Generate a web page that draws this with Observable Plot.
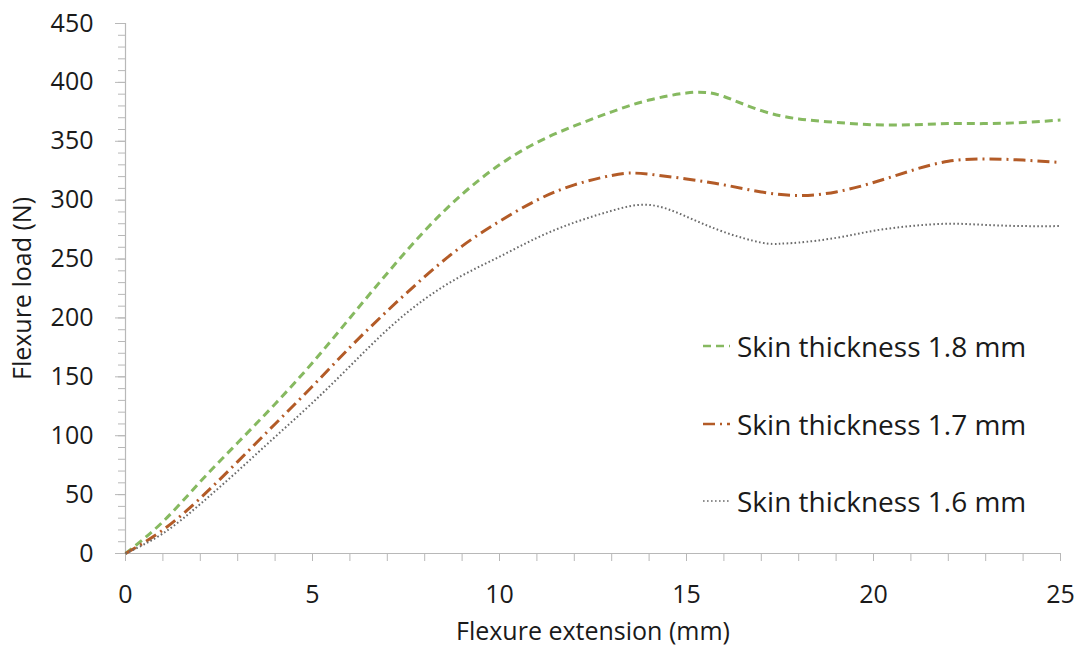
<!DOCTYPE html>
<html>
<head>
<meta charset="utf-8">
<script src="https://cdn.jsdelivr.net/npm/d3@7"></script>
<script src="https://cdn.jsdelivr.net/npm/@observablehq/plot@0.6"></script>
<style>
  html, body { margin: 0; padding: 0; background: #fff; }
  #wrap { position: relative; width: 1080px; height: 650px; font-family: "Open Sans", sans-serif; }
  #legend { position: absolute; left: 700px; top: 326px; }
  .row { display: flex; align-items: center; height: 40px; margin-bottom: 37.5px; font-size: 28px; color: #1a1a1a; }
  .row svg { margin-right: 7px; }
</style>
</head>
<body>
<div id="wrap"><div id="chart"></div><div id="legend"></div></div>
<script>
const seriesNames = ["Skin thickness 1.8 mm", "Skin thickness 1.7 mm", "Skin thickness 1.6 mm"];
const colors = ["#86b960", "#b35b27", "#6b6b6b"];
const dashes = ["8,5", "12,5,2,5", "1.6,2.4"];
const widths = [3, 3, 2];

const x18 = [0,1,2,3,4,5,6,7,8,9,10,11,12,13,14,15,15.5,16,17,18,19,20,21,22,23,24,25];
const y18 = [0,27,61,94,127,162,200,238,274,305,330,349,363,375,385,391,391.5,388,376,369,366,364,364,365,365,366,368];

const x17 = [0,1,2,3,4,5,6,7,8,9,10,11,12,13,13.5,14,15,16,17,18,19,20,21,22,23,24,25];
const y17 = [0,20,47,78,110,142,175,206,235,261,282,300,313,321,323,322,318,313,307,304,307,315,325,333,335,334,332];

const x16 = [0,1,2,3,4,5,6,7,8,9,10,11,12,13,14,15,16,17,17.5,18,19,20,21,22,23,24,25];
const y16 = [0,17,42,70,99,128,159,190,216,236,252,268,281,291,296,286,273,264,263,264,268,274,278,280,279,278,278];

const xTickLabels = [0,5,10,15,20,25];
const yTickLabels = [0,50,100,150,200,250,300,350,400,450];

const toRows = (xs, ys) => xs.map((x, i) => ({x, y: ys[i]}));
const data = [toRows(x18, y18), toRows(x17, y17), toRows(x16, y16)];

const axisColor = "#b8b8b8";
const font = '"Open Sans", sans-serif';

const lines = data.map((d, i) => Plot.line(d, {
  x: "x", y: "y", stroke: colors[i], strokeWidth: widths[i],
  strokeDasharray: dashes[i], curve: "natural", strokeLinecap: "butt"
}));

const chart = Plot.plot({
  width: 1080,
  height: 650,
  marginLeft: 125,
  marginRight: 20,
  marginTop: 23,
  marginBottom: 97,
  style: { fontFamily: font, fontSize: "27px", background: "#fff", overflow: "visible", color: "#1a1a1a" },
  x: { domain: [0, 25] },
  y: { domain: [0, 450] },
  marks: [
    Plot.axisX({ ticks: d3.range(0, 26, 1), tickSize: 8, tickFormat: () => "", stroke: axisColor, label: null }),
    Plot.axisX({ ticks: xTickLabels, tickSize: 0, tickPadding: 32, fontSize: 25, fill: "#1a1a1a",
      label: "Flexure extension (mm)", labelAnchor: "center", labelOffset: 86, labelArrow: "none" }),
    Plot.axisY({ ticks: d3.range(0, 451, 10), tickSize: 7, tickFormat: () => "", stroke: axisColor, label: null }),
    Plot.axisY({ ticks: yTickLabels, tickSize: 10, tickPadding: 22, fontSize: 25, fill: "#1a1a1a", stroke: axisColor,
      label: "Flexure load (N)", labelAnchor: "center", labelOffset: 112, labelArrow: "none" }),
    Plot.ruleY([0], { stroke: axisColor, strokeWidth: 1.2 }),
    Plot.ruleX([0], { stroke: axisColor, strokeWidth: 1.2 }),
    ...lines
  ]
});
document.getElementById("chart").appendChild(chart);

const legend = document.getElementById("legend");
seriesNames.forEach((name, i) => {
  const row = document.createElement("div");
  row.className = "row";
  const ns = "http://www.w3.org/2000/svg";
  const svg = document.createElementNS(ns, "svg");
  svg.setAttribute("width", 30); svg.setAttribute("height", 10);
  const ln = document.createElementNS(ns, "line");
  ln.setAttribute("x1", 3); ln.setAttribute("x2", 30); ln.setAttribute("y1", 5); ln.setAttribute("y2", 5);
  ln.setAttribute("stroke", colors[i]); ln.setAttribute("stroke-width", widths[i] * 0.8);
  ln.setAttribute("stroke-dasharray", dashes[i]);
  svg.appendChild(ln);
  const span = document.createElement("span");
  span.textContent = name;
  row.appendChild(svg); row.appendChild(span);
  legend.appendChild(row);
});
</script>
</body>
</html>
